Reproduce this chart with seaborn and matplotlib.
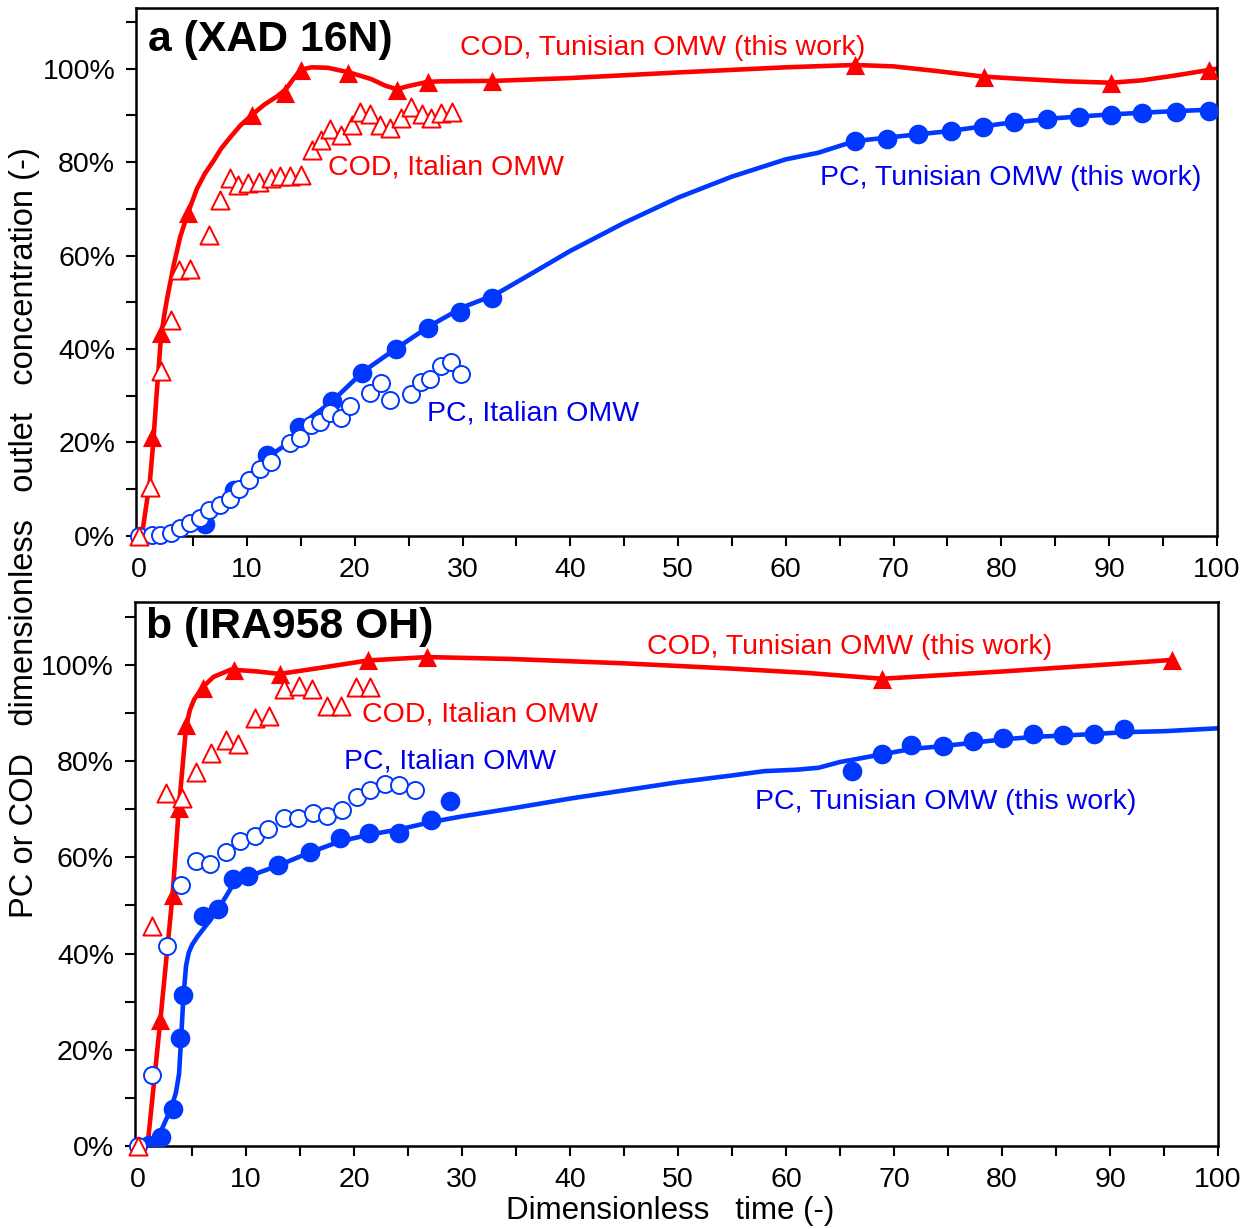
import numpy as np
import pandas as pd
import matplotlib
matplotlib.use("Agg")
import matplotlib.pyplot as plt
from matplotlib.ticker import MultipleLocator, PercentFormatter
import seaborn as sns

RED = '#FF0000'
BLUE = '#0038FF'
BLUE_TXT = '#0000F0'

# ---- panel a (XAD 16N) ----
a_cod_tun_x = [1.2, 2.0, 4.5, 10.5, 13.5, 15.0, 19.4, 23.9, 26.8, 32.7, 66.4, 78.4, 90.2, 99.3]
a_cod_tun_y = [21.2, 43.5, 69.2, 90.0, 94.9, 99.8, 99.1, 95.5, 97.2, 97.4, 100.9, 98.3, 97.0, 99.8]
a_cod_fit_x = [0, 0.3, 1.0, 1.3, 1.6, 2.0, 2.3, 2.6, 3.2, 3.8, 4.5, 5.35, 6.1, 6.9, 7.6, 8.4, 9.4,
               10.5, 11.6, 12.8, 13.6, 14.3, 15.0, 16.0, 17.5, 19.5, 21.5, 22.8, 23.9, 25.0, 26.8,
               28.0, 33.0, 40, 50, 60, 66.4, 70, 74, 78.4, 82, 86, 90.2, 93, 96, 100]
a_cod_fit_y = [0, 1, 12, 20, 30, 42, 47, 51, 58, 64, 69, 74.3, 77.6, 80.3, 82.9, 85.2, 87.9,
               90.2, 92.3, 94.1, 95.6, 97.8, 99.8, 100.3, 100.2, 99.2, 97.8, 96.4, 95.6, 96.3, 97.2,
               97.3, 97.4, 98.0, 99.2, 100.3, 100.8, 100.5, 99.5, 98.3, 97.8, 97.3, 97.0, 97.5, 98.5, 100.0]
a_cod_ita_x = [0, 1.0, 2.0, 2.9, 3.7, 4.7, 6.5, 7.5, 8.4, 9.2, 10.1, 11.1, 12.2, 13.1, 14.0, 15.0,
               16.0, 16.9, 17.7, 18.7, 19.7, 20.5, 21.4, 22.3, 23.3, 24.3, 25.2, 26.2, 27.1, 28.0, 29.0]
a_cod_ita_y = [0, 10.5, 35.2, 46.3, 57.0, 57.2, 64.5, 72.0, 76.7, 75.2, 75.5, 75.8, 76.7, 77.0, 77.0, 77.2,
               82.7, 84.8, 87.0, 85.9, 88.0, 90.8, 90.2, 88.0, 87.4, 89.5, 91.9, 90.2, 89.5, 90.6, 90.8]
a_pc_tun_x = [2.9, 6.1, 8.8, 11.9, 14.8, 17.9, 20.7, 23.8, 26.8, 29.8, 32.7,
              66.4, 69.4, 72.3, 75.3, 78.3, 81.2, 84.2, 87.2, 90.2, 93.1, 96.2, 99.3]
a_pc_tun_y = [0.2, 2.6, 9.9, 17.3, 23.4, 28.8, 34.8, 40.0, 44.6, 48.0, 51.0,
              84.6, 85.0, 86.1, 86.7, 87.6, 88.7, 89.3, 89.7, 90.1, 90.6, 90.8, 91.0]
a_pc_fit_x = [0, 1, 2, 3.2, 4.3, 5.4, 7.2, 9.1, 12.2, 13.8, 14.8, 17.9, 20.8, 23.9, 27.0, 30.1, 33.0,
              36.0, 40, 45, 50, 55, 60, 63, 66.4, 70, 75, 80, 85, 90, 95, 100]
a_pc_fit_y = [0, 0, 0, 0.1, 1.0, 2.7, 6.3, 10.6, 17.3, 19.8, 23.4, 28.8, 35.2, 40.2, 45.0, 49.0, 51.6,
              55.6, 61.0, 67.0, 72.4, 76.9, 80.6, 82.0, 84.5, 85.4, 86.6, 88.2, 89.4, 90.2, 90.8, 91.3]
a_pc_ita_x = [0, 1.2, 1.95, 2.9, 3.8, 4.7, 5.6, 6.5, 7.5, 8.4, 9.3, 10.2, 11.2, 12.2, 14.0, 14.9,
              15.9, 16.8, 17.7, 18.7, 19.6, 21.4, 22.4, 23.3, 25.2, 26.1, 27.0, 28.0, 28.9, 29.9]
a_pc_ita_y = [0, 0.2, 0.2, 0.6, 1.7, 2.7, 3.8, 5.6, 6.6, 7.9, 10.0, 12.0, 14.3, 15.9, 19.8, 20.9,
              23.8, 24.3, 26.3, 25.2, 27.8, 30.6, 32.7, 29.1, 30.4, 33.0, 33.5, 36.3, 37.3, 34.7]

# ---- panel b (IRA958 OH) ----
b_cod_tun_x = [2.07, 3.2, 3.77, 4.45, 6.0, 8.87, 13.1, 21.3, 26.8, 68.9, 95.7]
b_cod_tun_y = [26.2, 52.2, 70.2, 87.5, 95.2, 99.0, 98.1, 101.0, 101.6, 97.1, 101.0]
b_cod_fit_x = [0, 0.9, 2.07, 3.2, 3.77, 4.45, 4.8, 5.2, 6.0, 7.0, 8.6, 11.1, 13.1, 16.7, 21.3, 26.8,
               34.6, 45, 55, 62, 68.9, 80, 90, 95.7]
b_cod_fit_y = [0, 0.5, 26.2, 52.2, 70.0, 87.0, 90.6, 92.8, 95.4, 97.5, 99.0, 98.6, 98.1, 99.3, 100.9, 101.6,
               101.2, 100.3, 99.2, 98.3, 97.1, 98.6, 100.1, 101.0]
b_cod_ita_x = [0, 1.3, 2.6, 4.05, 5.4, 6.77, 8.1, 9.3, 10.8, 12.1, 13.5, 14.9, 16.1, 17.5, 18.8, 20.2, 21.5]
b_cod_ita_y = [0, 45.7, 73.4, 72.3, 77.8, 81.6, 84.4, 83.6, 88.9, 89.3, 94.9, 95.6, 94.9, 91.5, 91.5, 95.4, 95.4]
b_pc_tun_x = [1.05, 2.13, 3.2, 3.9, 4.2, 6.0, 7.44, 8.8, 10.2, 13.0, 15.9, 18.7, 21.4, 24.2, 27.1, 28.9,
              66.1, 68.9, 71.6, 74.5, 77.3, 80.1, 82.9, 85.6, 88.5, 91.3]
b_pc_tun_y = [0.2, 1.9, 7.8, 22.5, 31.4, 47.8, 49.2, 55.4, 56.1, 58.4, 61.2, 64.0, 65.1, 65.0, 67.8, 71.7,
              78.0, 81.5, 83.4, 83.2, 84.2, 84.8, 85.7, 85.4, 85.7, 86.7]
b_pc_fit_x = [0, 1, 2, 3, 3.5, 3.8, 4.0, 4.2, 4.45, 4.7, 5.0, 5.5, 6.8, 7.5, 8.8, 10.2, 13, 15.9, 18.7,
              21.4, 24.2, 27.1, 30, 35, 40, 45, 50, 55, 58, 61, 63, 65, 66.5, 68.9, 71.6, 74.5,
              77.3, 80.1, 82.9, 85.6, 88.5, 91.3, 95, 100]
b_pc_fit_y = [0, 0.3, 2.5, 7.5, 11, 15, 22.7, 31, 37.5, 40.2, 41.8, 43.5, 47.3, 49.5, 54.3, 56, 58.3, 61, 63.3,
              64.7, 65.8, 67.3, 68.5, 70.3, 72.2, 73.9, 75.6, 77.0, 77.9, 78.2, 78.6, 79.8, 80.4, 81.4, 82.5, 83.1,
              83.8, 84.5, 85.0, 85.3, 85.6, 86.0, 86.2, 86.8]
b_pc_ita_x = [0, 1.3, 2.7, 4.0, 5.4, 6.7, 8.1, 9.4, 10.8, 12.0, 13.5, 14.8, 16.2, 17.5, 18.9, 20.3,
              21.5, 22.9, 24.2, 25.6]
b_pc_ita_y = [0, 14.8, 41.6, 54.3, 59.3, 58.6, 61.2, 63.3, 64.4, 65.8, 68.1, 68.1, 69.2, 68.6, 69.9, 72.6,
              73.9, 75.3, 75.1, 73.9]

sns.set_style('ticks')
plt.rcParams['font.family'] = ['Liberation Sans', 'DejaVu Sans']
plt.rcParams['text.color'] = 'black'
plt.rcParams['xtick.color'] = 'black'
plt.rcParams['ytick.color'] = 'black'
plt.rcParams['axes.labelcolor'] = 'black'

fig = plt.figure(figsize=(12.48, 12.29), dpi=100)
ax_a = fig.add_axes([0.109, 0.564, 0.866, 0.4295])
ax_b = fig.add_axes([0.108, 0.0675, 0.868, 0.4425])


def draw_panel(ax, cod_fx, cod_fy, cod_x, cod_y, cod_ix, cod_iy,
               pc_fx, pc_fy, pc_x, pc_y, pc_ix, pc_iy):
    sns.lineplot(x=cod_fx, y=cod_fy, ax=ax, color=RED, lw=3.3, sort=False, estimator=None, zorder=2)
    sns.lineplot(x=pc_fx, y=pc_fy, ax=ax, color=BLUE, lw=3.3, sort=False, estimator=None, zorder=2)
    sns.scatterplot(x=cod_x, y=cod_y, ax=ax, marker='^', s=190, color=RED,
                    edgecolor=RED, linewidth=0, zorder=3)
    sns.scatterplot(x=pc_x, y=pc_y, ax=ax, marker='o', s=200, color=BLUE,
                    edgecolor=BLUE, linewidth=0, zorder=3)
    # open markers for the Italian OMW data, drawn on top (triangles above circles)
    sns.scatterplot(x=pc_ix, y=pc_iy, ax=ax, marker='o', s=150, color='white',
                    edgecolor=BLUE, linewidth=1.4, zorder=4, clip_on=False)
    sns.scatterplot(x=cod_ix, y=cod_iy, ax=ax, marker='^', s=170, color='white',
                    edgecolor=RED, linewidth=1.4, zorder=5, clip_on=False)
    ax.set_xlim(-0.3, 100)
    ax.set_ylim(0, 113)
    ax.xaxis.set_major_locator(MultipleLocator(10))
    ax.xaxis.set_minor_locator(MultipleLocator(5))
    ax.yaxis.set_major_locator(MultipleLocator(20))
    ax.yaxis.set_minor_locator(MultipleLocator(10))
    ax.yaxis.set_major_formatter(PercentFormatter(100, decimals=0))
    ax.tick_params(which='both', direction='out', length=7, width=1.5, labelsize=20.5, color='black')
    ax.tick_params(axis='x', pad=8)
    ax.tick_params(axis='y', pad=8)
    for sp in ax.spines.values():
        sp.set_linewidth(1.8)
        sp.set_color('black')
        sp.set_visible(True)
    ax.set_xlabel('')
    ax.set_ylabel('')


draw_panel(ax_a, a_cod_fit_x, a_cod_fit_y, a_cod_tun_x, a_cod_tun_y, a_cod_ita_x, a_cod_ita_y,
           a_pc_fit_x, a_pc_fit_y, a_pc_tun_x, a_pc_tun_y, a_pc_ita_x, a_pc_ita_y)
draw_panel(ax_b, b_cod_fit_x, b_cod_fit_y, b_cod_tun_x, b_cod_tun_y, b_cod_ita_x, b_cod_ita_y,
           b_pc_fit_x, b_pc_fit_y, b_pc_tun_x, b_pc_tun_y, b_pc_ita_x, b_pc_ita_y)

fs = 20.5
ax_a.text(0.84, 106.2, 'a (XAD 16N)', fontsize=30.8, fontweight='bold', ha='left', va='center')
ax_a.text(29.8, 104.5, 'COD, Tunisian OMW (this work)', color=RED, fontsize=fs, ha='left', va='center')
ax_a.text(17.5, 78.8, 'COD, Italian OMW', color=RED, fontsize=fs, ha='left', va='center')
ax_a.text(63.2, 76.7, 'PC, Tunisian OMW (this work)', color=BLUE_TXT, fontsize=fs, ha='left', va='center')
ax_a.text(26.7, 26.1, 'PC, Italian OMW', color=BLUE_TXT, fontsize=fs, ha='left', va='center')

ax_b.text(0.74, 107.9, 'b (IRA958 OH)', fontsize=30.8, fontweight='bold', ha='left', va='center')
ax_b.text(47.1, 103.7, 'COD, Tunisian OMW (this work)', color=RED, fontsize=fs, ha='left', va='center')
ax_b.text(20.7, 89.6, 'COD, Italian OMW', color=RED, fontsize=fs, ha='left', va='center')
ax_b.text(19.1, 79.8, 'PC, Italian OMW', color=BLUE_TXT, fontsize=fs, ha='left', va='center')
ax_b.text(57.1, 71.5, 'PC, Tunisian OMW (this work)', color=BLUE_TXT, fontsize=fs, ha='left', va='center')

fig.text(0.020, 0.567, 'PC or COD   dimensionless   outlet   concentration (-)',
         rotation=90, fontsize=23.5, ha='center', va='center')
fig.text(0.537, 0.0145, 'Dimensionless   time (-)', fontsize=22.5, ha='center', va='center')

fig.savefig('out.png', dpi=100)
